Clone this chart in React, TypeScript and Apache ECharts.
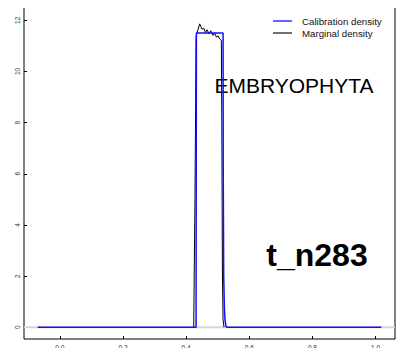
import React, { useEffect, useRef } from "react";
import * as echarts from "echarts";

const xTicks = [0, 0.2, 0.4, 0.6, 0.8, 1.0];
const yTicks = [0, 2, 4, 6, 8, 10, 12];

const calibrationX = [-0.07, 0.4315, 0.4325, 0.517, 0.5175, 0.519, 0.521, 0.523, 0.526, 0.528, 1.018];
const calibrationY = [0, 0, 11.5, 11.5, 6, 2, 0.8, 0.3, 0.05, 0, 0];

const marginalX = [0.424, 0.428, 0.4315, 0.4325, 0.443, 0.4504, 0.4557, 0.461, 0.4662, 0.4725, 0.4778, 0.4852, 0.4905, 0.4958, 0.501, 0.5063, 0.5116, 0.513, 0.515, 0.517, 0.52];
const marginalY = [0, 5, 11.3, 11.43, 11.86, 11.65, 11.69, 11.52, 11.63, 11.47, 11.59, 11.41, 11.5, 11.34, 11.39, 11.27, 11.21, 8, 2, 0.3, 0];

const seriesNames = ["Calibration density", "Marginal density"];
const panelTitle = "EMBRYOPHYTA";
const nodeLabel = "t_n283";

export default function App() {
  const ref = useRef<HTMLDivElement>(null);
  useEffect(() => {
    if (!ref.current) return;
    const chart = echarts.init(ref.current, null, { renderer: "svg" });
    const font = "Liberation Sans, Arial, Helvetica, sans-serif";
    chart.setOption({
      animation: false,
      backgroundColor: "#ffffff",
      grid: {
        left: 24,
        right: 13,
        top: 7,
        bottom: 17,
        show: true,
        borderColor: "#000",
        borderWidth: 1,
        backgroundColor: "transparent",
      },
      legend: {
        orient: "vertical",
        left: 273,
        top: 15,
        itemWidth: 19,
        itemHeight: 2,
        itemGap: 0,
        textStyle: { fontFamily: font, fontSize: 9.7, color: "#111", lineHeight: 12, padding: [0, 0, 0, 5] },
        padding: 0,
        data: [
          { name: seriesNames[0], icon: "rect", itemStyle: { color: "#6464ff" } },
          { name: seriesNames[1], icon: "rect", itemStyle: { color: "#707070" } },
        ],
        selectedMode: false,
      },
      xAxis: {
        type: "value",
        min: -0.1135,
        max: 1.0615,
        splitLine: { show: false },
        axisLine: { show: false, onZero: false },
        axisTick: { show: true, inside: true, length: 3, customValues: xTicks, lineStyle: { color: "#000" } },
        axisLabel: {
          customValues: xTicks,
          fontSize: 6.5,
          fontFamily: font,
          color: "#333",
          margin: 5,
          formatter: (v: number) => v.toFixed(1),
        },
      },
      yAxis: {
        type: "value",
        min: -0.46,
        max: 12.52,
        splitLine: { show: false },
        axisLine: { show: false, onZero: false },
        axisTick: { show: true, inside: true, length: 3, customValues: yTicks, lineStyle: { color: "#000" } },
        axisLabel: {
          customValues: yTicks,
          fontSize: 6.5,
          fontFamily: font,
          color: "#333",
          rotate: 90,
          margin: 3,
        },
      },
      graphic: [
        {
          type: "text",
          x: 294,
          y: 85,
          style: {
            text: panelTitle,
            font: "21px " + font,
            fill: "#000",
            align: "center",
            verticalAlign: "middle",
          },
        },
        {
          type: "text",
          x: 317,
          y: 255,
          style: {
            text: nodeLabel,
            font: "bold 32px " + font,
            fill: "#000",
            align: "center",
            verticalAlign: "middle",
          },
        },
      ],
      series: [
        {
          name: "zero",
          type: "line",
          data: [[-0.1135, 0], [1.0615, 0]],
          showSymbol: false,
          silent: true,
          lineStyle: { color: "#d6d6d6", width: 2 },
          z: 1,
        },
        {
          name: seriesNames[1],
          type: "line",
          data: marginalX.map((x, i) => [x, marginalY[i]]),
          showSymbol: false,
          lineStyle: { color: "#000", width: 1 },
          itemStyle: { color: "#707070" },
          z: 2,
        },
        {
          name: seriesNames[0],
          type: "line",
          data: calibrationX.map((x, i) => [x, calibrationY[i]]),
          showSymbol: false,
          lineStyle: { color: "#1010ff", width: 1.5 },
          itemStyle: { color: "#6464ff" },
          z: 3,
        },
      ],
    });
    return () => chart.dispose();
  }, []);
  return <div ref={ref} style={{ width: 408, height: 356, margin: -8 }} />;
}
